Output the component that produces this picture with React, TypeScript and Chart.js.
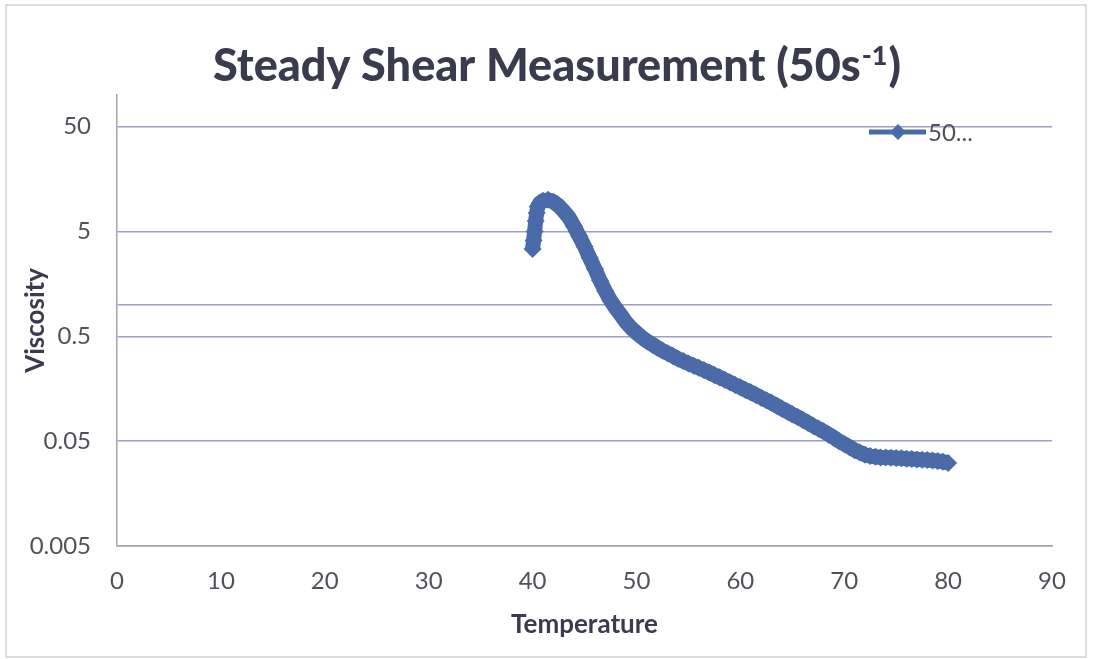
import React, { useEffect, useRef } from "react";
import { Chart, registerables } from "chart.js";

Chart.register(...registerables);

const temperature = [
  40.0, 40.1, 40.2, 40.3, 40.4, 40.5, 40.7, 41.0, 41.5, 42.0, 42.5, 43.0, 43.5, 44.0, 44.5,
  45.0, 45.5, 46.0, 46.5, 47.0, 47.5, 48.0, 48.5, 49.0, 49.5, 50.0, 50.5, 51.0, 51.5, 52.0,
  52.5, 53.0, 53.5, 54.0, 54.5, 55.0, 55.5, 56.0, 56.5, 57.0, 57.5, 58.0, 58.5, 59.0, 59.5,
  60.0, 60.5, 61.0, 61.5, 62.0, 62.5, 63.0, 63.5, 64.0, 64.5, 65.0, 65.5, 66.0, 66.5, 67.0,
  67.5, 68.0, 68.5, 69.0, 69.5, 70.0, 70.5, 71.0, 71.5, 72.0, 72.5, 73.0, 73.5, 74.0, 74.5,
  75.0, 75.5, 76.0, 76.5, 77.0, 77.5, 78.0, 78.5, 79.0, 79.5, 80.0,
];

const viscosity = [
  3.4, 4.1, 5.0, 6.3, 7.5, 8.6, 9.3, 9.8, 10.0, 9.6, 8.8, 7.8, 6.8, 5.6, 4.5,
  3.6, 2.8, 2.2, 1.7, 1.35, 1.1, 0.93, 0.8, 0.68, 0.6, 0.54, 0.49, 0.45, 0.42, 0.39,
  0.365, 0.345, 0.325, 0.305, 0.29, 0.275, 0.262, 0.25, 0.238, 0.226, 0.214, 0.203, 0.192, 0.182, 0.172,
  0.163, 0.154, 0.146, 0.138, 0.13, 0.123, 0.116, 0.109, 0.102, 0.096, 0.09, 0.085, 0.08, 0.075, 0.07,
  0.066, 0.062, 0.058, 0.054, 0.05, 0.047, 0.044, 0.041, 0.039, 0.037, 0.036, 0.0355, 0.035, 0.035, 0.0348,
  0.0345, 0.0343, 0.034, 0.0338, 0.0335, 0.0332, 0.033, 0.0327, 0.0323, 0.0318, 0.031,
];

const yTickValues = [0.005, 0.05, 0.5, 1, 5, 50, 100];
const yTickLabels = ["0.005", "0.05", "0.5", "", "5", "50", ""];
const xMin = 0;
const xMax = 90;
const xStep = 10;

const seriesLabel = "50...";
const titleMain = "Steady Shear Measurement (50s";
const titleSup = "-1";
const titleEnd = ")";
const xTitle = "Temperature";
const yTitle = "Viscosity";

const SERIES_COLOR = "#4a6aa8";
const TEXT_COLOR = "#515159";
const TITLE_COLOR = "#3a3b4d";

const frameAndTitle = {
  id: "frameAndTitle",
  beforeDraw(chart: any) {
    const ctx = chart.ctx;
    ctx.save();
    ctx.strokeStyle = "#cfd2dc";
    ctx.lineWidth = 1.5;
    ctx.strokeRect(6, 5, 1080, 652);
    ctx.restore();
  },
  afterDraw(chart: any) {
    const ctx = chart.ctx;
    ctx.save();
    // title
    const mainFont = "900 45px Lato";
    const supFont = "900 27px Lato";
    ctx.font = mainFont;
    const w1 = ctx.measureText(titleMain).width;
    const w3 = ctx.measureText(titleEnd).width;
    ctx.font = supFont;
    const w2 = ctx.measureText(titleSup).width;
    const total = w1 + w2 + w3 + 2;
    let x = 557 - total / 2;
    const base = 81;
    ctx.fillStyle = TITLE_COLOR;
    ctx.textBaseline = "alphabetic";
    ctx.textAlign = "left";
    ctx.font = mainFont;
    ctx.fillText(titleMain, x, base);
    x += w1 + 1;
    ctx.font = supFont;
    ctx.fillText(titleSup, x, base - 16);
    x += w2 + 1;
    ctx.font = mainFont;
    ctx.fillText(titleEnd, x, base);

    // legend
    const ly = 132;
    ctx.strokeStyle = SERIES_COLOR;
    ctx.lineWidth = 5;
    ctx.beginPath();
    ctx.moveTo(869, ly);
    ctx.lineTo(926, ly);
    ctx.stroke();
    ctx.fillStyle = SERIES_COLOR;
    ctx.beginPath();
    ctx.moveTo(898, ly - 8);
    ctx.lineTo(906, ly);
    ctx.lineTo(898, ly + 8);
    ctx.lineTo(890, ly);
    ctx.closePath();
    ctx.fill();
    ctx.fillStyle = TEXT_COLOR;
    ctx.font = "24px Lato";
    ctx.textBaseline = "middle";
    ctx.fillText(seriesLabel, 928, ly + 1);
    ctx.restore();
  },
};

export default function App() {
  const ref = useRef<HTMLCanvasElement | null>(null);

  useEffect(() => {
    if (!ref.current) return;
    const points = temperature.map((t, i) => ({ x: t, y: viscosity[i] }));
    const chart = new Chart(ref.current, {
      type: "scatter",
      data: {
        datasets: [
          {
            label: seriesLabel,
            data: points,
            showLine: true,
            borderColor: SERIES_COLOR,
            borderWidth: 15,
            backgroundColor: SERIES_COLOR,
            pointStyle: "rectRot",
            pointRadius: 9,
            pointBorderWidth: 0,
            pointBackgroundColor: SERIES_COLOR,
            tension: 0,
          },
        ],
      },
      options: {
        animation: false,
        responsive: true,
        maintainAspectRatio: false,
        layout: { padding: { top: 95, right: 51, bottom: 0, left: 0 } },
        plugins: {
          legend: { display: false },
          title: { display: false },
          tooltip: { enabled: false },
        },
        scales: {
          x: {
            type: "linear",
            min: xMin,
            max: xMax,
            ticks: {
              stepSize: xStep,
              color: TEXT_COLOR,
              font: { family: "Lato", size: 24 },
              padding: 21,
              maxRotation: 0,
            },
            grid: { display: false, drawTicks: false },
            border: { display: true, color: "#a2a3ab", width: 1.5 },
            title: {
              display: true,
              text: xTitle,
              color: TITLE_COLOR,
              font: { family: "Lato", size: 26, weight: "bold" },
              padding: { top: 0, bottom: 19 },
            },
            afterFit: (scale: any) => {
              scale.height = 113;
            },
          },
          y: {
            type: "logarithmic",
            min: 0.005,
            max: 100,
            afterBuildTicks: (scale: any) => {
              scale.ticks = yTickValues.map((v) => ({ value: v }));
            },
            ticks: {
              color: TEXT_COLOR,
              font: { family: "Lato", size: 24 },
              padding: 26,
              callback: (value: any) => {
                const i = yTickValues.findIndex((v) => Math.abs(v - Number(value)) < v * 1e-6);
                return i >= 0 ? yTickLabels[i] : "";
              },
            },
            grid: {
              drawTicks: false,
              lineWidth: 1.5,
              color: (ctx: any) => (ctx.tick && ctx.tick.value === 100 ? "rgba(0,0,0,0)" : "#9aa0bd"),
            },
            border: { display: true, color: "#a2a3ab", width: 1.5 },
            title: {
              display: true,
              text: yTitle,
              color: TITLE_COLOR,
              font: { family: "Lato", size: 26, weight: "bold" },
              padding: { top: 20, bottom: 0 },
            },
            afterFit: (scale: any) => {
              scale.width = 117;
            },
          },
        },
      },
      plugins: [frameAndTitle],
    });
    return () => chart.destroy();
  }, []);

  return (
    <div style={{ position: "absolute", left: 0, top: 0, width: 1103, height: 659, background: "#ffffff" }}>
      <canvas ref={ref} />
    </div>
  );
}
